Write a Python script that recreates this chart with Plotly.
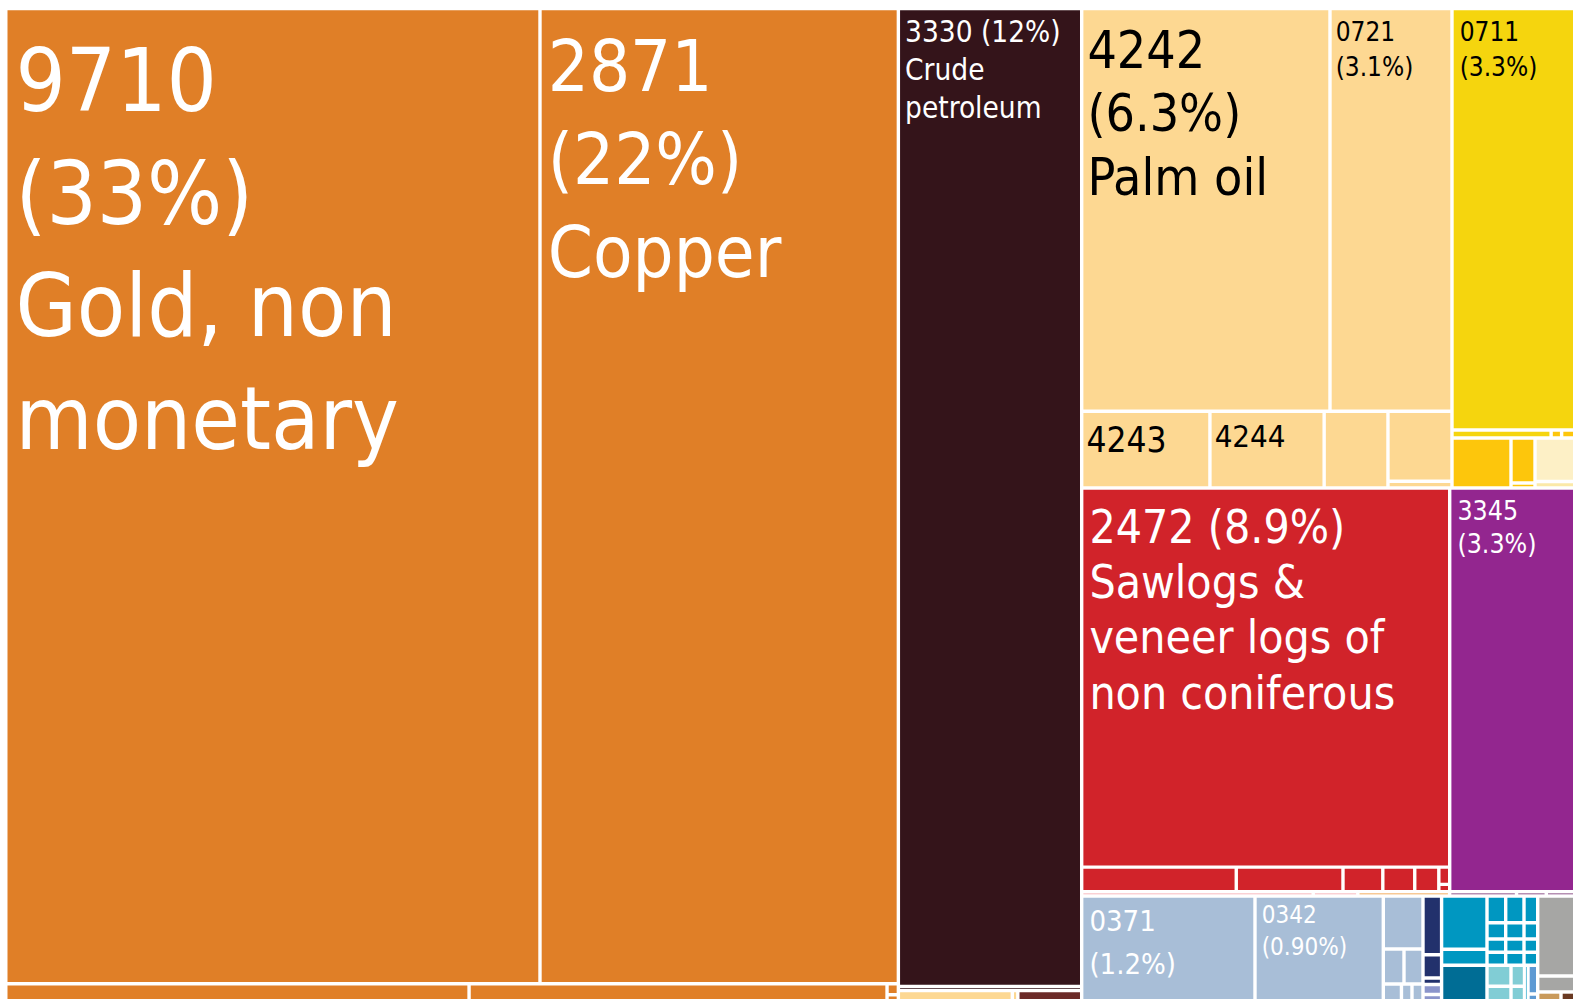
import plotly.graph_objects as go

# ---------------- data: share of exports (%) ----------------
# precious / base metals
metal_keys = ["9710", "2871", "m_a", "m_b", "m_c", "m_d"]
metal_vals = [33.36, 22.38, 0.573, 0.517, 0.008, 0.006]
# petroleum column
petro_keys = ["3330", "p_thin", "p_tan", "p_tan2", "p_red"]
petro_vals = [11.48, 0.049, 0.091, 0.0044, 0.051]
# vegetable oils / agriculture
agri_keys = ["4242", "0721", "4243", "4244", "a_c3", "a_c4", "a_c5"]
agri_vals = [6.403, 3.146, 0.631, 0.562, 0.314, 0.287, 0.028]
# coffee / tea
coffee_keys = ["0711", "y_s1", "y_s2", "y_s3", "y_b1", "y_b2", "y_b2b", "y_cream", "y_cream2"]
coffee_vals = [3.347, 0.051, 0.0054, 0.0074, 0.189, 0.0692, 0.0077, 0.1142, 0.0171]
# wood
wood_keys = ["2472", "w1", "w2", "w3", "w4", "w5", "w6", "w7"]
wood_vals = [8.934, 0.2445, 0.1688, 0.063, 0.0505, 0.0381, 0.012, 0.0052]
# oils / chemicals
chem_keys = ["3345"]
chem_vals = [3.266]
# thin strip of minor items
minor_keys = ["k_pink1", "k_pink2", "k_orange", "k_pur1", "k_pur2", "k_pur3"]
minor_vals = [0.0623, 0.0120, 0.0247, 0.018, 0.008, 0.008]
# fish
fish_keys = ["0371", "0342", "f1", "f2", "f3", "f4", "f5", "f6"]
fish_vals = [1.1874, 0.8791, 0.1347, 0.0464, 0.0426, 0.0221, 0.0128, 0.0134]
# navy / lavender
navy_keys = ["n1", "n2", "n3", "n4", "n5"]
navy_vals = [0.0699, 0.02775, 0.00774, 0.01191, 0.01012]
# machinery (teal)
teal_keys = ["t1", "t2", "t3",
             "g11", "g12", "g13", "g14", "g21", "g22", "g23", "g24", "g31", "g32", "g33", "g34",
             "cy1", "cy2", "cy3", "cy4", "cy5", "mb1", "mb2"]
teal_vals = [0.1547, 0.0468, 0.1096,
             0.03197, 0.01952, 0.01593, 0.01557, 0.03129, 0.0191, 0.01559, 0.01523,
             0.02342, 0.0143, 0.01167, 0.0114,
             0.03227, 0.02567, 0.01816, 0.01444, 0.00845, 0.01783, 0.00559]
# other (gray / brown)
other_keys = ["g1", "g2", "g3", "g4"]
other_vals = [0.1962, 0.03924, 0.01641, 0.01057]

# labels
label_text = {
    "9710": ["9710", "(33%)", "Gold, non", "monetary"],
    "2871": ["2871", "(22%)", "Copper"],
    "3330": ["3330 (12%)", "Crude", "petroleum"],
    "4242": ["4242", "(6.3%)", "Palm oil"],
    "0721": ["0721", "(3.1%)"],
    "0711": ["0711", "(3.3%)"],
    "4243": ["4243"],
    "4244": ["4244"],
    "2472": ["2472 (8.9%)", "Sawlogs &", "veneer logs of", "non coniferous"],
    "3345": ["3345", "(3.3%)"],
    "0371": ["0371", "(1.2%)"],
    "0342": ["0342", "(0.90%)"],
}

# ---------------- styling ----------------
C_ORANGE = "#E07F27"
C_BROWN = "#34141A"
C_TAN = "#FDD892"
C_YELLOW = "#F5D50E"
C_GOLD = "#FDC60C"
C_CREAM = "#FDF0C6"
C_RED = "#D1232A"
C_PURPLE = "#93268F"
C_LBLUE = "#A8BED7"
C_NAVY = "#22316C"
C_LAV = "#8B95CB"
C_TEAL = "#0097C1"
C_DTEAL = "#006D95"
C_LCYAN = "#81CDD5"
C_MBLUE = "#5E9AD3"
C_GRAY = "#A6A6A4"

group_color = {}
for keys, col in [(metal_keys, C_ORANGE), (petro_keys, C_BROWN), (agri_keys, C_TAN),
                  (coffee_keys, C_YELLOW), (wood_keys, C_RED), (chem_keys, C_PURPLE),
                  (fish_keys, C_LBLUE), (navy_keys, C_NAVY), (teal_keys, C_TEAL),
                  (other_keys, C_GRAY)]:
    for k in keys:
        group_color[k] = col
group_color.update({
    "p_tan": C_TAN, "p_tan2": C_TAN, "p_red": "#6B2B28",
    "y_s2": C_GOLD, "y_s3": C_GOLD, "y_b1": C_GOLD, "y_b2": C_GOLD, "y_b2b": C_GOLD,
    "y_cream": C_CREAM, "y_cream2": "#FBE9A8",
    "k_pink1": "#F5A3AA", "k_pink2": "#F5A3AA", "k_orange": "#F0932F",
    "k_pur1": "#6E2268", "k_pur2": "#6E2268", "k_pur3": "#6E2268",
    "n4": C_LAV, "n5": C_LAV, "t3": C_DTEAL,
    "cy1": C_LCYAN, "cy2": C_LCYAN, "cy3": C_LCYAN, "cy4": C_LCYAN,
    "mb1": C_MBLUE, "mb2": C_MBLUE,
    "g3": "#C99A5B", "g4": "#6A3A22",
})

# label style: font size, colour, x pad, first-line cap-centre offset from tile top, line pitch
label_style = {
    "9710": (88, "white", 8, 68.8, 112.7),
    "2871": (72, "white", 6, 54.8, 92.8),
    "3330": (29.5, "white", 5, 20.8, 38),
    "4242": (51.5, "black", 4, 38.8, 63.5),
    "0721": (26, "black", 4, 21, 35),
    "0711": (26, "black", 6, 21, 35),
    "4243": (35, "black", 3, 26.4, 40),
    "4244": (31, "black", 3, 23.3, 40),
    "2472": (46, "white", 6, 36.1, 55.4),
    "3345": (26.5, "white", 6, 20.3, 33.3),
    "0371": (29, "white", 6, 22.6, 42.7),
    "0342": (24, "white", 5, 17, 31.6),
}
FONT = "DejaVu Sans Condensed, DejaVu Sans, sans-serif"
GAP = 3.4
W, H = 1573, 999
BOX = (5.8, 8.5, 1576.0, 1003.0)

# nesting of the tiles: "h" = side by side, "v" = stacked
tree = ("h", [
    ("v", [("h", ["9710", "2871"]), ("h", ["m_a", "m_b", ("v", ["m_c", "m_d"])])]),
    ("v", ["3330", "p_thin", ("h", ["p_tan", "p_tan2", "p_red"])]),
    ("v", [
        ("h", [
            ("v", [("h", ["4242", "0721"]),
                   ("h", ["4243", "4244", "a_c3", ("v", ["a_c4", "a_c5"])])]),
            ("v", ["0711", ("h", ["y_s1", "y_s2", "y_s3"]),
                   ("h", ["y_b1", ("v", ["y_b2", "y_b2b"]), ("v", ["y_cream", "y_cream2"])])]),
        ]),
        ("h", [
            ("v", ["2472", ("h", ["w1", "w2", "w3", "w4", "w5", ("v", ["w6", "w7"])])]),
            "3345",
        ]),
        ("h", minor_keys),
        ("h", [
            ("h", ["0371", "0342", ("v", ["f1", ("h", ["f2", "f3"]), ("h", ["f4", "f5", "f6"])])]),
            ("v", navy_keys),
            ("h", [
                ("v", ["t1", "t2", "t3"]),
                ("v", [
                    ("h", [("v", ["g11", "g12", "g13", "g14"]),
                           ("v", ["g21", "g22", "g23", "g24"]),
                           ("v", ["g31", "g32", "g33", "g34"])]),
                    ("h", [("v", ["cy1", "cy2"]), ("v", ["cy3", "cy4"]), "cy5", ("v", ["mb1", "mb2"])]),
                ]),
            ]),
            ("v", ["g1", "g2", ("h", ["g3", "g4"])]),
        ]),
    ]),
])

values = {}
for ks, vs in [(metal_keys, metal_vals), (petro_keys, petro_vals), (agri_keys, agri_vals),
               (coffee_keys, coffee_vals), (wood_keys, wood_vals), (chem_keys, chem_vals),
               (minor_keys, minor_vals), (fish_keys, fish_vals), (navy_keys, navy_vals),
               (teal_keys, teal_vals), (other_keys, other_vals)]:
    values.update(dict(zip(ks, vs)))


def total(node):
    if isinstance(node, str):
        return values[node]
    return sum(total(k) for k in node[1])


def place(node, x0, y0, x1, y1, out):
    if isinstance(node, str):
        out[node] = (x0, y0, x1, y1)
        return
    d, kids = node
    s = sum(total(k) for k in kids)
    pos = x0 if d == "h" else y0
    for k in kids:
        t = total(k)
        if d == "h":
            nxt = pos + (x1 - x0) * t / s
            place(k, pos, y0, nxt, y1, out)
        else:
            nxt = pos + (y1 - y0) * t / s
            place(k, x0, pos, x1, nxt, out)
        pos = nxt


rects = {}
place(tree, *BOX, rects)

fig = go.Figure()

# tiles grouped by colour
by_color = {}
for key, (x0, y0, x1, y1) in rects.items():
    a, b, c, d = x0 + GAP / 2, y0 + GAP / 2, x1 - GAP / 2, y1 - GAP / 2
    if c - a < 0.6:
        m = (x0 + x1) / 2; a, c = m - 0.3, m + 0.3
    if d - b < 0.6:
        m = (y0 + y1) / 2; b, d = m - 0.3, m + 0.3
    xs, ys = by_color.setdefault(group_color[key], ([], []))
    xs += [a, c, c, a, a, None]
    ys += [b, b, d, d, b, None]

for col, (xs, ys) in by_color.items():
    fig.add_trace(go.Scatter(x=xs, y=ys, mode="lines", fill="toself", fillcolor=col,
                             line=dict(width=0, color=col), hoverinfo="skip", showlegend=False))

# labels: plotly's "middle" text sits with its baseline 0.25em below the point;
# shift so the cap-height centre lands on the wanted position
CAP_MID = 0.3645 - 0.25
for key, lines in label_text.items():
    size, colr, pad, off, pitch = label_style[key]
    x0, y0, x1, y1 = rects[key]
    top = y0 + GAP / 2
    xs = [x0 + GAP / 2 + pad] * len(lines)
    ys = [top + off + i * pitch + CAP_MID * size for i in range(len(lines))]
    fig.add_trace(go.Scatter(x=xs, y=ys, mode="text", text=lines, textposition="middle right",
                             textfont=dict(family=FONT, size=size, color=colr),
                             hoverinfo="skip", showlegend=False, cliponaxis=False))

fig.update_layout(
    width=W, height=H, margin=dict(l=0, r=0, t=0, b=0),
    paper_bgcolor="white", plot_bgcolor="white",
    xaxis=dict(range=[0, W], visible=False, fixedrange=True),
    yaxis=dict(range=[H, 0], visible=False, fixedrange=True),
)
fig.write_html("out.html")
